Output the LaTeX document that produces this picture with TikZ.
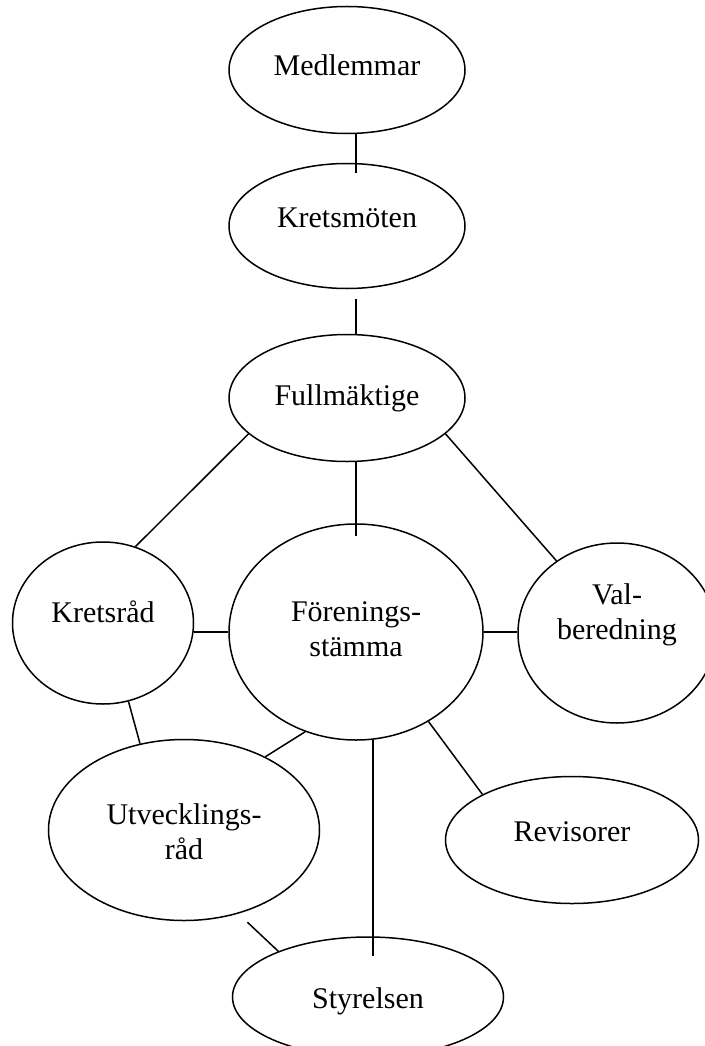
\documentclass[tikz,border=0pt]{standalone}
\usepackage{fontspec}
\setmainfont{Liberation Serif}
\usetikzlibrary{shapes, positioning}
\tikzstyle{bubble} = [ellipse, draw = black, line width = 0.6pt, inner sep = 0]
\tikzstyle{link} = [line width = 0.6pt]
\tikzset{every label/.style = {align = center, inner sep = 0,
  font = \fontsize{12}{14}\selectfont}}

\begin{document}
\begin{tikzpicture}[x = 0.4pt, y = -0.4pt]
      \useasboundingbox (0, 0) rectangle (705, 1046);
      % top column
      \node [bubble, minimum width = 94.4pt, minimum height = 50.8pt,
        label = {[yshift = 2pt]center:Medlemmar}] (medlemmar) at (347, 70) {};
      \node [bubble, minimum width = 94.4pt, minimum height = 50pt,
        label = {[yshift = 3.2pt]center:Kretsmöten}] (kretsm) at (347, 226) {};
      \node [bubble, minimum width = 94.4pt, minimum height = 50.8pt,
        label = {center:Fullmäktige}] (fullm) at (347, 398) {};
      % middle row
      \node [bubble, minimum width = 72.4pt, minimum height = 64.8pt,
        label = {[yshift = 4.4pt]center:Kretsråd}] (kretsrad) at (103, 623) {};
      \node [bubble, minimum width = 101.6pt, minimum height = 86.4pt,
        label = {[yshift = 1pt]center:Förenings-\\stämma}] (fs) at (356, 632) {};
      \node [bubble, minimum width = 79.2pt, minimum height = 72pt,
        label = {[yshift = 7.2pt]center:Val-\\beredning}] (valb) at (617, 633) {};
      % bottom
      \node [bubble, minimum width = 108.4pt, minimum height = 72.4pt,
        label = {[yshift = -0.8pt]center:Utvecklings-\\råd}] (utv) at (184, 830) {};
      \node [bubble, minimum width = 101.2pt, minimum height = 50.8pt,
        label = {[yshift = 3.2pt]center:Revisorer}] (rev) at (572, 840) {};
      \node [bubble, minimum width = 108.4pt, minimum height = 48pt,
        label = {[yshift = -1.6pt]center:Styrelsen}] (styr) at (368, 997) {};

      \draw [link, shorten >= -4pt] (fs.north |- medlemmar.south) -- (fs.north |- kretsm.north);
      \draw [link, shorten <= 4pt] (fs.north |- kretsm.south) -- (fs.north |- fullm.north);
      \draw [link, shorten >= -5pt] (fs.north |- fullm.south) -- (fs.north);
      \draw [link] (fullm.-160) -- (kretsrad.67);
      \draw [link] (fullm.-20) -- (valb.130);
      \draw [link] (fs.west -| kretsrad.east) -- (fs.west);
      \draw [link] (fs.east) -- (fs.east -| valb.west);
      \draw [link] (kretsrad.-72) -- (utv.117);
      \draw [link] (fs.-117) -- (utv.42);
      \draw [link, shorten >= -8pt] (fs.-81) -- (fs.-81 |- styr.north);
      \draw [link] (fs.-51) -- (rev.153);
      \draw [link, shorten <= 5pt] (utv.-57) -- (styr.153);
    \end{tikzpicture}
\end{document}
